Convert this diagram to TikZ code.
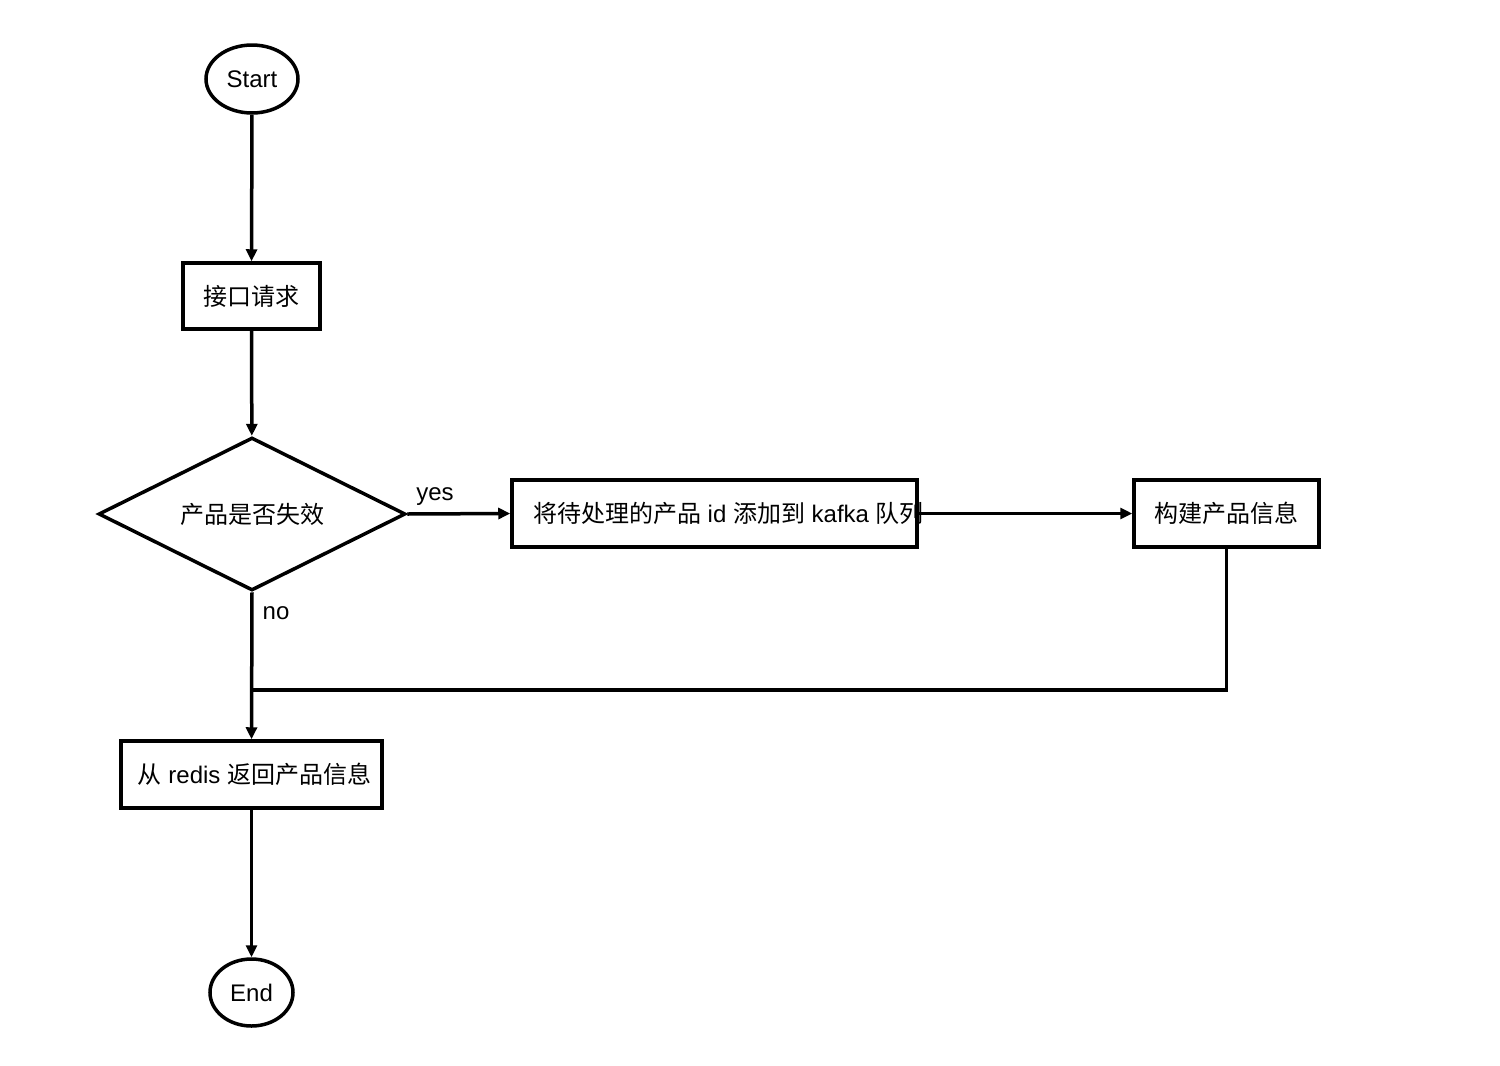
\documentclass[tikz,border=0pt]{standalone}
\usepackage{fontspec}
\setmainfont{Liberation Sans}
\newfontfamily\cjk{Noto Sans CJK SC}
\usetikzlibrary{arrows.meta, positioning, shapes.geometric, calc}
\newcommand{\zh}[1]{{\cjk #1}}

\begin{document}
\begin{tikzpicture}[x=1pt, y=-1pt,
        line width=3.5pt,
        every node/.style={font=\fontsize{24}{28}\selectfont},
        box/.style={draw, fill=white, rectangle, minimum height=67pt, inner sep=0pt, align=center},
        term/.style={draw, fill=white, ellipse, inner sep=0pt},
        decision/.style={draw, fill=white, diamond, aspect=2, minimum width=307pt, minimum height=153pt, inner sep=0pt},
        arr/.style={-{Triangle[length=12pt, width=11pt]}},
        lbl/.style={inner sep=0pt}
      ]
        \useasboundingbox (0,0) rectangle (1500,1066);
        \node[term, minimum width=92pt, minimum height=68pt] (start) at (252,79) {Start};
        \node[box, minimum width=137pt, minimum height=66pt] (req) at (251.5,296) {\zh{接口请求}};
        \node[decision] (check) at (252,514) {\zh{产品是否失效}};
        \node[box, minimum width=405pt] (kafka) at (714.5,513.5) {\makebox[405pt][l]{\hspace*{21pt}\zh{将待处理的产品} id \zh{添加到} kafka \zh{队列}}};
        \node[box, minimum width=185pt] (build) at (1226.5,513.5) {\zh{构建产品信息}};
        \node[box, minimum width=261pt] (redis) at (251.5,774.5) {\hspace*{6pt}\zh{从} redis \zh{返回产品信息}};
        \node[term, minimum width=83pt, minimum height=67pt] (end) at (251.5,992.5) {End};
        \coordinate (join) at (252,690);
        \draw[arr] (start) -- (req);
        \draw[arr] (req) -- (check);
        \draw[arr] (check.east) -- node[lbl, above, pos=0.27, yshift=7pt] {yes} (kafka.west);
        \draw[arr] (kafka.east) -- (build.west);
        \draw[arr] (check.south) -- node[lbl, right, pos=0.14, xshift=9pt] {no} (redis.north);
        \draw (build.south) |- (join);
        \draw[arr] (redis) -- (end);
      \end{tikzpicture}
\end{document}
